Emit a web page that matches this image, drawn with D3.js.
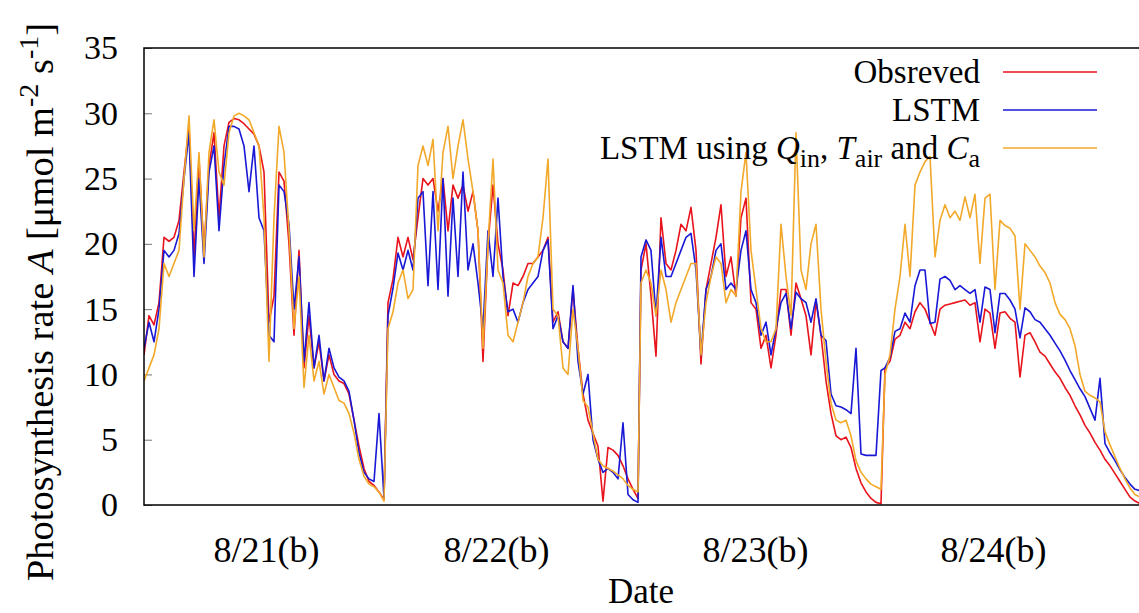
<!DOCTYPE html>
<html>
<head>
<meta charset="utf-8">
<script src="https://cdn.jsdelivr.net/npm/d3@7"></script>
<style>
  body { margin: 0; background: #fff; }
  svg { display: block; font-family: "Liberation Serif", "Times New Roman", serif; }
</style>
</head>
<body>
<svg id="chart"></svg>
<script>
// sample index where each day's daytime record starts (one sample per step)
const dayStart = [0, 48.8, 99.4, 148.2];

// Observed
const obs21 = [11.5,14.5,13.8,15.5,20.5,20.2,20.5,21.8,25.5,29.0,19.0,26.5,19.5,26,28.5,22,27.5,29.3,29.6,29.5,29.2,28.8,28.4,27.5,25.5,14,16,25.5,24.8,20,13,19.5,10.5,14.5,10.5,12.5,9.5,11.5,10,9.5,9.3,8.5,6.5,4.5,2.8,1.8,1.5,1.0,0.4];
const obs22 = [15.5,17.3,20.5,19,20.5,18.8,22,25,24.5,25,22.5,25,21,24.5,23.5,24.5,22.5,24,21,11,20,24.5,20,18,14.5,17,16.8,17.5,18.5,18.5,19,19.5,20.5,14,14.8,12.5,12,16.5,12,8.5,6.5,5.5,4.5,0.3,4.4,4.2,3.8,3,2,1.2,0.5];
const obs23 = [18,20,16,11.4,22,18.5,18,19.5,21.5,21,22.8,19.5,10.8,16.5,18.5,20.5,23,17.5,19,16,22,23.5,15.5,15,12,13,10.5,13,16.5,16.5,13,17,15.8,14.5,11.5,15.6,13,9.5,7,5.3,5.0,5.2,4.4,2.8,1.7,1.0,0.5,0.2,0.1];
const obs24 = [10.5,11,12.7,13,14,13.5,14.8,15.5,15,14,13,15,15.3,15.4,15.5,15.6,15.7,15.3,15.5,12.5,15.0,14.7,12,14.7,14.8,14.3,14,9.8,13,13.2,12.5,11.7,11.4,10.8,10.2,9.7,9.0,8.4,7.6,6.9,6.1,5.5,4.8,4.2,3.5,3.0,2.4,1.8,1.2,0.6,0.3,0.1];

// LSTM
const lstm21 = [12,14,12.5,15,19.5,19,19.5,20.8,25,28.5,17.5,25,18.5,25.5,27.5,21,26,29,29,28.8,27.5,24,27.5,22,21,13,12.5,24.5,24,21.5,15,19,11,15.5,10.5,13,9.5,12,10.5,9.8,9.5,8.7,6.5,4,2.5,2.0,1.8,7.0,0.5];
const lstm22 = [14.5,16.6,19.3,18,19.5,18,23.5,24,16.8,24,16.5,25,16,23.5,17.5,25.5,18,20,17,13.5,21,17.5,23.5,17.5,14.8,15,14,15.5,16.5,17,17.5,19.5,20.3,13.5,14.5,12.5,12,16.8,11,8.5,10,5,3.5,2.5,2.8,2.5,2.0,6.3,0.8,0.4,0.2];
const lstm23 = [19,20.3,19.5,14.5,20.5,17.5,17.5,18.5,19.5,20.5,20.8,18,11.5,16.5,17.5,19.5,20,16.5,17,16.5,19.5,21,16.5,15.5,13,14,11.5,13.5,15.5,16.2,13.5,16.3,15.8,15.5,14,15.8,13,12.6,8.5,7.6,7.5,7.3,7.0,12,3.9,3.8,3.8,3.8,10.3];
const lstm24 = [10.5,11.3,13.3,13.5,14.7,14,16.8,18,18,13.9,14,17.3,17.5,17.2,16.5,16.8,16.5,16.2,16.5,14,16.7,16.5,13.2,16.2,16.2,15.7,15,12.8,15.1,14.8,14.2,14,13.5,13,12.4,11.8,11.1,10.3,9.6,8.9,8.3,7.4,6.5,9.7,4.7,4.0,3.4,2.7,2.1,1.6,1.2,1.1];

// LSTM using Q_in, T_air and C_a
const lstmQ21 = [9.5,10.5,11.5,13.5,18.5,17.5,18.5,19.5,25,29.8,21,27,19,27,29.5,25.5,24.5,28.5,29.8,30,29.8,29.5,28.5,27.5,22,11,22,29,27,21,13.5,17.5,9,13,9.5,11,8.5,10,9,8,7.8,7,5.5,3.5,2.2,1.6,1.4,1.0,0.3];
const lstmQ22 = [13.5,14.8,17,18,15.8,16.5,26,27.5,26,28,21,27,29,25,27.5,29.5,26.5,24,21,12,20,26.5,18,17,13,12.5,14,15.5,17.5,18.5,19,22,26.5,15,14.5,10.5,10,15,12,8,7.5,5.5,3.5,3.0,2.8,2.6,2.3,2.0,1.5,1.2,1.0];
const lstmQ23 = [17,18,17,14.5,18,16.5,14,15.5,16.5,17.5,18.5,18.5,11.5,15.5,17.5,19,18.5,15.5,16.5,16,24,27,19.5,16.5,13.5,12.5,12.5,13.5,21.5,17.5,14.5,28.5,18,16.5,20,21.5,15,11,7.8,6.5,6.3,6.5,5.3,3.4,2.5,2.0,1.6,1.4,1.2];
const lstmQ24 = [10,11.5,15,17.5,21.5,17.5,24.5,25.5,26.3,26.7,19,21.8,23,22,22.5,21.8,23.6,22,23.8,18.5,23.5,23.8,16.5,21.8,21.4,21.2,20.6,15,20,19.5,19,18.3,17.8,17,15.5,14.6,14.2,13.5,12.2,10,8.7,8.4,8.2,7.9,5.6,4.6,3.7,2.8,2.0,1.3,0.8,0.6];

// axes
const yTicks = [0, 5, 10, 15, 20, 25, 30, 35];
const xTickPos = [24.4, 70.4, 122.2, 169.8];
const xTickLabels = ["8/21(b)", "8/22(b)", "8/23(b)", "8/24(b)"];

const seriesNames = ["Obsreved", "LSTM", "LSTM using Qin, Tair and Ca"];
const colors = ["#e8131b", "#1818d6", "#f2a92a"];

// build the three series from the day arrays
function join(days) {
  const out = [];
  days.forEach((vals, d) => {
    vals.forEach((v, i) => out.push({ t: dayStart[d] + i, value: v }));
  });
  return out;
}
const series = [
  join([obs21, obs22, obs23, obs24]),
  join([lstm21, lstm22, lstm23, lstm24]),
  join([lstmQ21, lstmQ22, lstmQ23, lstmQ24]),
];

const width = 1139;
const height = 613;
const margin = { top: 48, right: -5, bottom: 108, left: 144 };

const x = d3.scaleLinear()
  .domain([0, 200])
  .range([margin.left, width - margin.right]);

const y = d3.scaleLinear()
  .domain([0, 35])
  .range([height - margin.bottom, margin.top]);

const svg = d3.select("#chart")
  .attr("width", width)
  .attr("height", height);

svg.append("defs").append("clipPath").attr("id", "plot")
  .append("rect")
  .attr("x", margin.left)
  .attr("y", margin.top - 2)
  .attr("width", width - margin.right - margin.left)
  .attr("height", height - margin.bottom - margin.top + 4);

// y axis, ticks pointing inward
svg.append("g")
  .attr("transform", `translate(${margin.left},0)`)
  .call(d3.axisLeft(y).tickValues(yTicks).tickSize(-8).tickPadding(26))
  .call(g => g.select(".domain").remove())
  .call(g => g.selectAll(".tick line").attr("stroke", "#777").attr("stroke-width", 1))
  .call(g => g.selectAll(".tick text")
    .attr("font-family", "Liberation Serif")
    .attr("font-size", 34)
    .attr("fill", "#000"));

// x axis labels only
svg.append("g")
  .attr("transform", `translate(0,${height - margin.bottom})`)
  .call(d3.axisBottom(x).tickValues(xTickPos).tickFormat((d, i) => xTickLabels[i]).tickSize(0).tickPadding(31))
  .call(g => g.select(".domain").remove())
  .call(g => g.selectAll(".tick text")
    .attr("font-family", "Liberation Serif")
    .attr("font-size", 36)
    .attr("fill", "#000"));

// lines
const line = d3.line()
  .x(d => x(d.t))
  .y(d => y(d.value));

svg.append("g")
  .attr("clip-path", "url(#plot)")
  .selectAll("path")
  .data(series)
  .join("path")
  .attr("fill", "none")
  .attr("stroke", (d, i) => colors[i])
  .attr("stroke-width", 1.6)
  .attr("stroke-linejoin", "round")
  .attr("d", line);

// frame
svg.append("rect")
  .attr("x", margin.left)
  .attr("y", margin.top)
  .attr("width", width - margin.right - margin.left)
  .attr("height", height - margin.bottom - margin.top)
  .attr("fill", "none")
  .attr("stroke", "#000")
  .attr("stroke-width", 1.5);

// axis titles
svg.append("text")
  .attr("x", 641)
  .attr("y", 603)
  .attr("text-anchor", "middle")
  .attr("font-size", 35)
  .text("Date");

const yLab = svg.append("text")
  .attr("transform", "translate(53,302) rotate(-90)")
  .attr("text-anchor", "middle")
  .attr("font-size", 38.5);
yLab.append("tspan").text("Photosynthesis rate ");
yLab.append("tspan").attr("font-style", "italic").text("A");
yLab.append("tspan").text(" [\u03bcmol m");
yLab.append("tspan").attr("font-size", 28).attr("dy", -15).text("-2");
yLab.append("tspan").attr("dy", 15).text(" s");
yLab.append("tspan").attr("font-size", 28).attr("dy", -15).text("-1");
yLab.append("tspan").attr("dy", 15).text("]");

// legend
const legendRows = [72, 110, 148];
const legend = svg.append("g");
legendRows.forEach((ly, i) => {
  legend.append("line")
    .attr("x1", 1003).attr("x2", 1097)
    .attr("y1", ly).attr("y2", ly)
    .attr("stroke", colors[i])
    .attr("stroke-width", 1.6);
  const t = legend.append("text")
    .attr("x", 980)
    .attr("y", ly + 11)
    .attr("text-anchor", "end")
    .attr("font-size", 33);
  if (i < 2) {
    t.text(seriesNames[i]);
  } else {
    t.append("tspan").text("LSTM using ");
    t.append("tspan").attr("font-style", "italic").text("Q");
    t.append("tspan").attr("font-size", 26).attr("dy", 8).text("in");
    t.append("tspan").attr("dy", -8).text(", ");
    t.append("tspan").attr("font-style", "italic").text("T");
    t.append("tspan").attr("font-size", 26).attr("dy", 8).text("air");
    t.append("tspan").attr("dy", -8).text(" and ");
    t.append("tspan").attr("font-style", "italic").text("C");
    t.append("tspan").attr("font-size", 26).attr("dy", 8).text("a");
  }
});
</script>
</body>
</html>
